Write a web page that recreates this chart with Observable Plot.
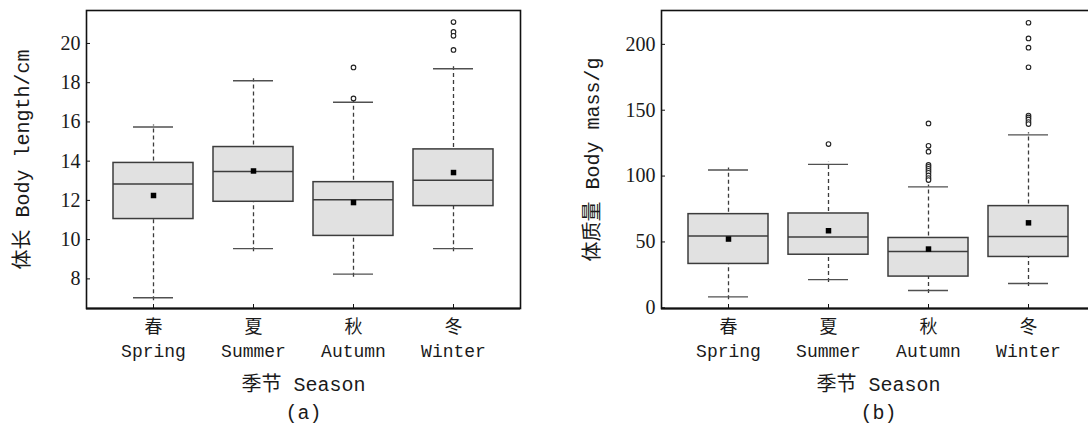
<!DOCTYPE html>
<html>
<head>
<meta charset="utf-8">
<script src="https://cdn.jsdelivr.net/npm/d3@7"></script>
<script src="https://cdn.jsdelivr.net/npm/@observablehq/plot@0.6"></script>
<style>
  body { margin: 0; background: white; }
  #wrap { display: flex; flex-direction: row; width: 1088px; height: 424px; overflow: hidden; }
  .panel { width: 544px; height: 424px; overflow: hidden; flex: none; }
  .panel svg { max-width: none !important; }
  .panel svg g[aria-label="y-axis tick label"] { font-family: 'Liberation Serif', 'DejaVu Serif', serif; }
</style>
</head>
<body>
<div id="wrap"><div class="panel" id="a"></div><div class="panel" id="b"></div></div>
<script>
// categories
const seasons = ["Spring", "Summer", "Autumn", "Winter"];
const seasonsCN = ["春", "夏", "秋", "冬"];

// (a) body length, cm
const lenLow    = [7.04, 9.54, 8.24, 9.54];
const lenQ1     = [11.05, 11.93, 10.19, 11.71];
const lenMedian = [12.83, 13.47, 12.03, 13.03];
const lenQ3     = [13.91, 14.72, 12.93, 14.6];
const lenHigh   = [15.74, 18.1, 17.0, 18.71];
const lenMean   = [12.25, 13.5, 11.89, 13.42];
const lenOutSeason = ["Autumn", "Autumn", "Winter", "Winter", "Winter", "Winter"];
const lenOutValue  = [18.78, 17.2, 21.09, 20.59, 20.39, 19.67];
const lenTicks = [8, 10, 12, 14, 16, 18, 20];

// (b) body mass, g
const massLow    = [8.3, 21.4, 13.1, 18.4];
const massQ1     = [33.3, 40.3, 23.7, 38.6];
const massMedian = [54.5, 53.7, 42.8, 54.2];
const massQ3     = [71.1, 71.6, 53.0, 77.2];
const massHigh   = [104.6, 108.9, 91.8, 131.3];
const massMean   = [52.2, 58.5, 44.6, 64.5];
const massOutSeason = ["Summer",
  "Autumn", "Autumn", "Autumn", "Autumn", "Autumn", "Autumn", "Autumn", "Autumn", "Autumn", "Autumn", "Autumn",
  "Winter", "Winter", "Winter", "Winter", "Winter", "Winter", "Winter", "Winter", "Winter"];
const massOutValue = [124.3,
  140, 123, 118.5, 108.5, 107, 105.5, 104, 102.5, 100.5, 98.5, 97,
  216.4, 204.5, 197.5, 182.6, 146, 144.5, 143, 141, 139.5];
const massTicks = [0, 50, 100, 150, 200];

const mono = "'Liberation Mono', 'Noto Sans CJK SC', monospace";
const serif = "'Liberation Serif', 'DejaVu Serif', serif";
const boxStroke = "#3c3c3c";

function panel({low, q1, median, q3, high, mean, outS, outV, ticks, yDomain, yLabel, tag,
                width, marginLeft, marginRight, yLabelDx}) {
  const stats = seasons.map((s, i) => ({season: s, low: low[i], q1: q1[i], median: median[i], q3: q3[i], high: high[i], mean: mean[i]}));
  const outs = outS.map((s, i) => ({season: s, value: outV[i]}));
  return Plot.plot({
    width, height: 424,
    marginTop: 10, marginBottom: 116, marginLeft, marginRight,
    style: {background: "white", color: "#1a1a1a", maxWidth: "none"},
    x: {type: "band", domain: seasons, paddingInner: 0.2, paddingOuter: 0.265, align: 0.5},
    y: {domain: yDomain},
    marks: [
      Plot.ruleX(stats, {x: "season", y1: "q3", y2: "high", stroke: boxStroke, strokeWidth: 1.3, strokeDasharray: "4,3", insetTop: 5, insetBottom: 2}),
      Plot.ruleX(stats, {x: "season", y1: "low", y2: "q1", stroke: boxStroke, strokeWidth: 1.3, strokeDasharray: "4,3", insetTop: 3, insetBottom: 5}),
      Plot.tickY(stats, {x: "season", y: "high", stroke: "#505050", strokeWidth: 1.4, insetLeft: 20, insetRight: 20}),
      Plot.tickY(stats, {x: "season", y: "low", stroke: "#505050", strokeWidth: 1.4, insetLeft: 20, insetRight: 20}),
      Plot.barY(stats, {x: "season", y1: "q1", y2: "q3", fill: "#e1e1e1", stroke: boxStroke, strokeWidth: 1.5}),
      Plot.tickY(stats, {x: "season", y: "median", stroke: boxStroke, strokeWidth: 1.5}),
      Plot.dot(stats, {x: "season", y: "mean", symbol: "square", fill: "black", r: 3.1}),
      Plot.dot(outs, {x: "season", y: "value", r: 2.3, stroke: "#222", strokeWidth: 1.1, fill: "white"}),
      Plot.frame({stroke: "#111", strokeWidth: 1.6}),
      Plot.ruleY([yDomain[0]], {stroke: "#111", strokeWidth: 2}),
      Plot.axisY({ticks, tickSize: 4, insetLeft: 4, tickPadding: 6, fontFamily: serif, fontSize: 20, label: null, stroke: "#111"}),
      Plot.axisX({tickSize: 4, insetBottom: 4, tickPadding: 8, fontFamily: mono, fontSize: 18, lineHeight: 1.3, label: null, stroke: "#111",
        tickFormat: (d) => seasonsCN[seasons.indexOf(d)] + "\n" + d}),
      Plot.text([yLabel], {text: d => d, frameAnchor: "left", dx: yLabelDx, rotate: -90, textAnchor: "middle", fontFamily: mono, fontSize: 20, fill: "#1a1a1a"}),
      Plot.text(["季节 Season"], {text: d => d, frameAnchor: "bottom", dy: 82, fontFamily: mono, fontSize: 20, fill: "#1a1a1a"}),
      Plot.text([tag], {text: d => d, frameAnchor: "bottom", dy: 110, fontFamily: mono, fontSize: 20, fill: "#1a1a1a"})
    ]
  });
}

document.getElementById("a").append(panel({
  low: lenLow, q1: lenQ1, median: lenMedian, q3: lenQ3, high: lenHigh, mean: lenMean,
  outS: lenOutSeason, outV: lenOutValue, ticks: lenTicks, yDomain: [6.49, 21.68],
  yLabel: "体长 Body length/cm", tag: "(a)", width: 544, marginLeft: 86, marginRight: 24, yLabelDx: -63.5
}));
document.getElementById("b").append(panel({
  low: massLow, q1: massQ1, median: massMedian, q3: massQ3, high: massHigh, mean: massMean,
  outS: massOutSeason, outV: massOutValue, ticks: massTicks, yDomain: [-0.53, 225.7],
  yLabel: "体质量 Body mass/g", tag: "(b)", width: 551, marginLeft: 117, marginRight: 0, yLabelDx: -69.3
}));
</script>
</body>
</html>
